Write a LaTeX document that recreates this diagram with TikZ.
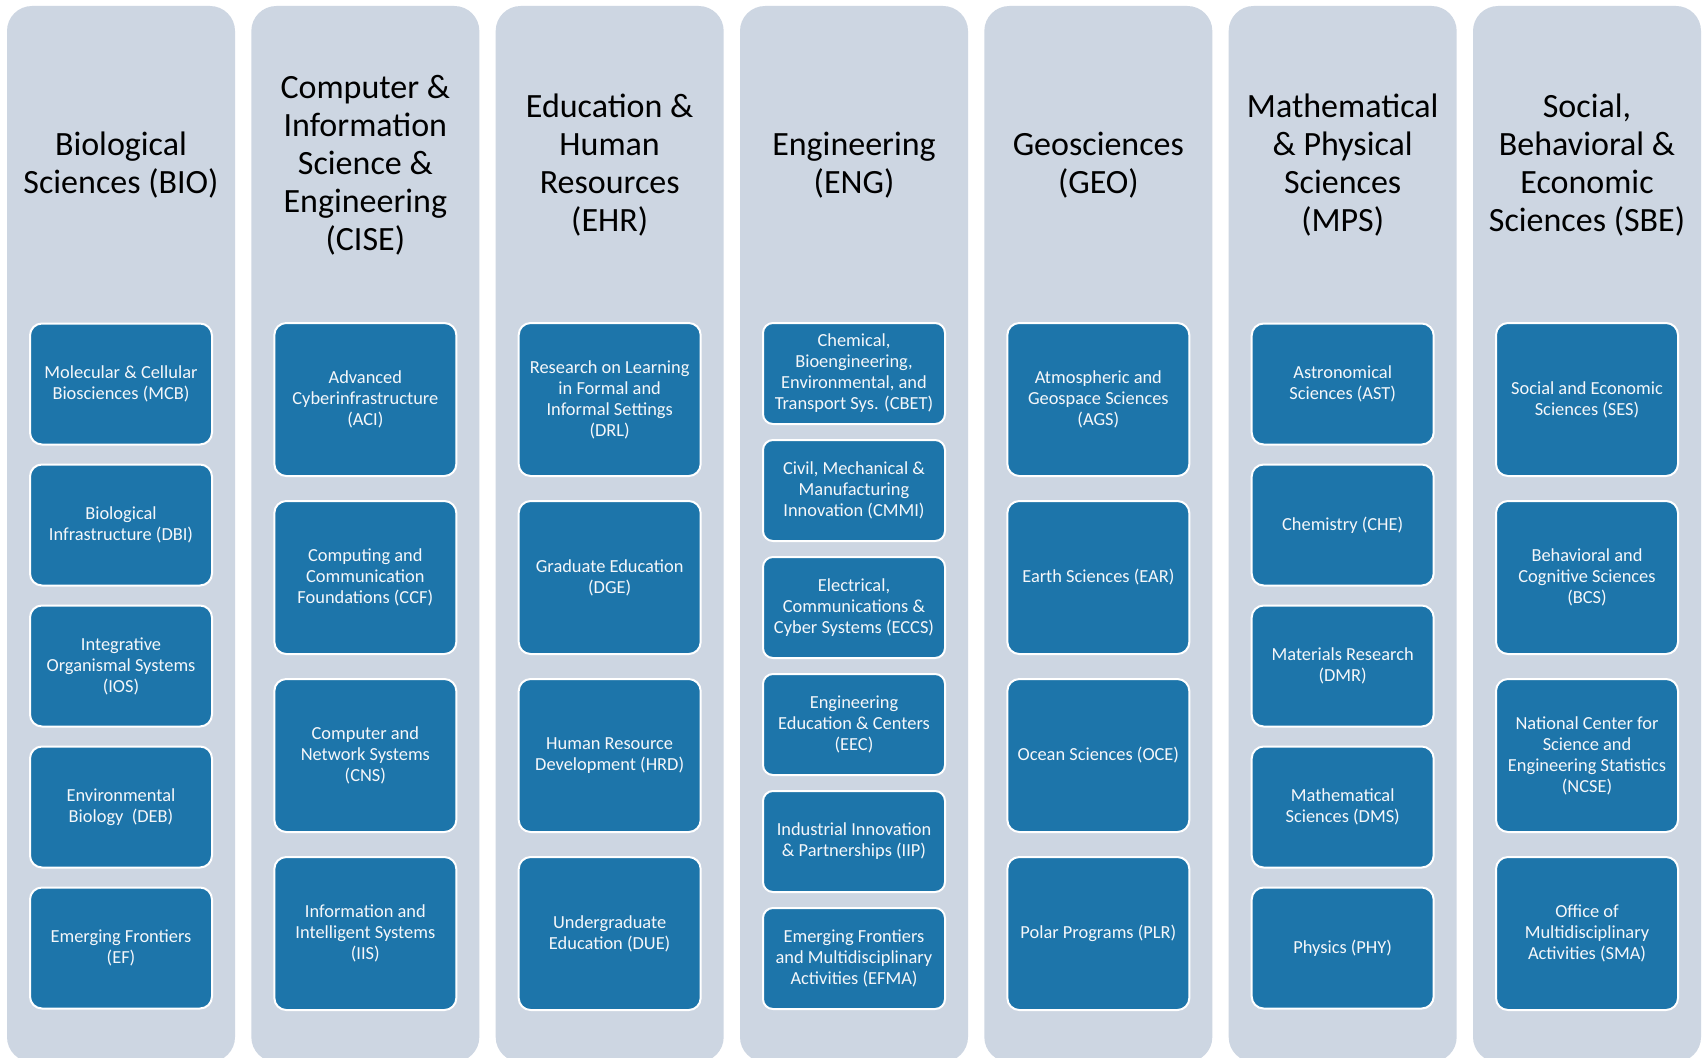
\documentclass[tikz,border=0pt]{standalone}
\usepackage{fontspec}
\setmainfont{Carlito}
\definecolor{colbg}{RGB}{205,214,226}
\definecolor{boxbg}{RGB}{29,117,170}
\definecolor{boxtext}{RGB}{245,247,250}
\begin{document}
\begin{tikzpicture}[x=1pt,y=-1pt,
  column/.style={fill=colbg, draw=none, rounded corners=25pt, minimum width=228pt, minimum height=1056pt, inner sep=0pt},
  header/.style={align=center, font=\fontsize{34}{38}\selectfont, text=black, inner sep=0pt},
  unit/.style={draw=white, line width=2pt, fill=boxbg, rounded corners=12pt, text=boxtext, align=center,
    font=\fontsize{18.4}{21}\selectfont, minimum width=182pt, inner sep=0pt},
  u5/.style={unit, minimum height=121pt},
  u4/.style={unit, minimum height=153pt},
  u6/.style={unit, minimum height=101pt, rounded corners=10pt},
]
\useasboundingbox (0,0) rectangle (1704,1057);
\fill[white] (0,0) rectangle (1704,1057);
\clip (0,0) rectangle (1704,1057);

% columns
\node[column] (cBIO)  at (121,534) {};
\node[column] (cCISE) at (365.33,534) {};
\node[column] (cEHR)  at (609.67,534) {};
\node[column] (cENG)  at (854,534) {};
\node[column] (cGEO)  at (1098.33,534) {};
\node[column] (cMPS)  at (1342.67,534) {};
\node[column] (cSBE)  at (1587,534) {};

% headers
\node[header] (hBIO)  at (121,165) {Biological\\Sciences (BIO)};
\node[header] (hCISE) at (365.33,165) {Computer \&\\Information\\Science \&\\Engineering\\(CISE)};
\node[header] (hEHR)  at (609.67,165) {Education \&\\Human\\Resources\\(EHR)};
\node[header] (hENG)  at (854,165) {Engineering\\(ENG)};
\node[header] (hGEO)  at (1098.33,165) {Geosciences\\(GEO)};
\node[header] (hMPS)  at (1342.67,165) {Mathematical\\\& Physical\\Sciences\\(MPS)};
\node[header] (hSBE)  at (1587,165) {Social,\\Behavioral \&\\Economic\\Sciences (SBE)};

% BIO
\node[u5] (mcb) at (121,384) {Molecular \& Cellular\\Biosciences (MCB)};
\node[u5] (dbi) at (121,525) {Biological\\Infrastructure (DBI)};
\node[u5] (ios) at (121,666) {Integrative\\Organismal Systems\\(IOS)};
\node[u5] (deb) at (121,807) {Environmental\\Biology~~(DEB)};
\node[u5] (ef)  at (121,948) {Emerging Frontiers\\(EF)};

% CISE
\node[u4] (aci) at (365.33,399.5) {Advanced\\Cyberinfrastructure\\(ACI)};
\node[u4] (ccf) at (365.33,577.5) {Computing and\\Communication\\Foundations (CCF)};
\node[u4] (cns) at (365.33,755.5) {Computer and\\Network Systems\\(CNS)};
\node[u4] (iis) at (365.33,933.5) {Information and\\Intelligent Systems\\(IIS)};

% EHR
\node[u4] (drl) at (609.67,399.5) {Research on Learning\\in Formal and\\Informal Settings\\(DRL)};
\node[u4] (dge) at (609.67,577.5) {Graduate Education\\(DGE)};
\node[u4] (hrd) at (609.67,755.5) {Human Resource\\Development (HRD)};
\node[u4] (due) at (609.67,933.5) {Undergraduate\\Education (DUE)};

% ENG
\node[u6] (cbet) at (854,373.5) {Chemical,\\Bioengineering,\\Environmental, and\\Transport Sys. (CBET)};
\node[u6] (cmmi) at (854,490.5) {Civil, Mechanical \&\\Manufacturing\\Innovation (CMMI)};
\node[u6] (eccs) at (854,607.5) {Electrical,\\Communications \&\\Cyber Systems (ECCS)};
\node[u6] (eec)  at (854,724.5) {Engineering\\Education \& Centers\\(EEC)};
\node[u6] (iip)  at (854,841.5) {Industrial Innovation\\\& Partnerships (IIP)};
\node[u6] (efma) at (854,958.5) {Emerging Frontiers\\and Multidisciplinary\\Activities (EFMA)};

% GEO
\node[u4] (ags) at (1098.33,399.5) {Atmospheric and\\Geospace Sciences\\(AGS)};
\node[u4] (ear) at (1098.33,577.5) {Earth Sciences (EAR)};
\node[u4] (oce) at (1098.33,755.5) {Ocean Sciences (OCE)};
\node[u4] (plr) at (1098.33,933.5) {Polar Programs (PLR)};

% MPS
\node[u5] (ast) at (1342.67,384) {Astronomical\\Sciences (AST)};
\node[u5] (che) at (1342.67,525) {Chemistry (CHE)};
\node[u5] (dmr) at (1342.67,666) {Materials Research\\(DMR)};
\node[u5] (dms) at (1342.67,807) {Mathematical\\Sciences (DMS)};
\node[u5] (phy) at (1342.67,948) {Physics (PHY)};

% SBE
\node[u4] (ses)  at (1587,399.5) {Social and Economic\\Sciences (SES)};
\node[u4] (bcs)  at (1587,577.5) {Behavioral and\\Cognitive Sciences\\(BCS)};
\node[u4] (ncse) at (1587,755.5) {National Center for\\Science and\\Engineering Statistics\\(NCSE)};
\node[u4] (sma)  at (1587,933.5) {Office of\\Multidisciplinary\\Activities (SMA)};
\end{tikzpicture}
\end{document}
